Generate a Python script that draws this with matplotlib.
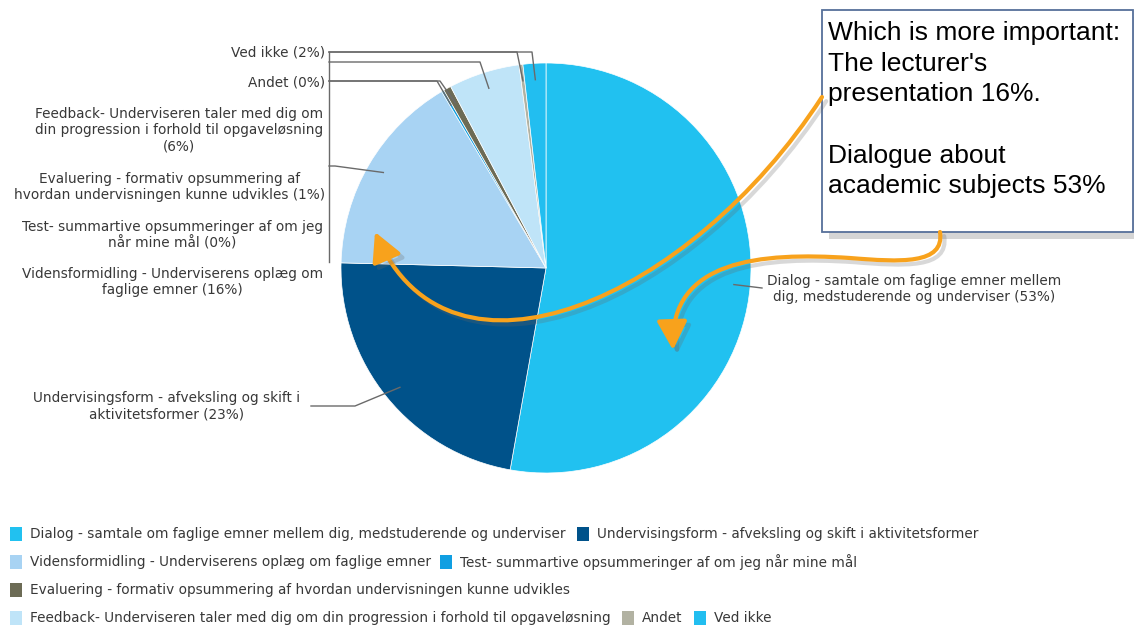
import numpy as np
import matplotlib

matplotlib.use("Agg")
import matplotlib.pyplot as plt
import matplotlib.patheffects as pe
from matplotlib.patches import Rectangle, FancyArrowPatch
from matplotlib.path import Path

W, H = 1134, 626

# survey answers, in series order (legend order == clockwise slice order)
CATEGORIES = [
    "Dialog - samtale om faglige emner mellem dig, medstuderende og underviser",
    "Undervisingsform - afveksling og skift i aktivitetsformer",
    "Vidensformidling - Underviserens oplæg om faglige emner",
    "Test- summartive opsummeringer af om jeg når mine mål",
    "Evaluering - formativ opsummering af hvordan undervisningen kunne udvikles",
    "Feedback- Underviseren taler med dig om din progression i forhold til opgaveløsning",
    "Andet",
    "Ved ikke",
]
SHARES = [52.8, 22.6, 16.1, 0.2, 0.6, 5.6, 0.3, 1.8]
COLORS = ["#21c1f0", "#00528a", "#a8d3f3", "#109fe2",
          "#6c6b55", "#bfe4f8", "#b2b2a2", "#22bef0"]
# slice labels, wrapped the way the chart shows them
WRAPPED = [
    "Dialog - samtale om faglige emner mellem\ndig, medstuderende og underviser",
    "Undervisingsform - afveksling og skift i\naktivitetsformer",
    "Vidensformidling - Underviserens oplæg om\nfaglige emner",
    "Test- summartive opsummeringer af om jeg\nnår mine mål",
    "Evaluering - formativ opsummering af\nhvordan undervisningen kunne udvikles",
    "Feedback- Underviseren taler med dig om\ndin progression i forhold til opgaveløsning\n",
    "Andet",
    "Ved ikke",
]

TEXT_C = "#383838"
LINE_C = "#6a6a6a"
ORANGE = "#f8a21c"
LABEL_FS = 9.8


def px(x, y):
    """pixel position (y down) -> data coords (y up)"""
    return (x, H - y)


fig = plt.figure(figsize=(W / 100, H / 100), dpi=100)
ax = fig.add_axes([0, 0, 1, 1])

cx, cy = px(546, 268)
R = 205
wedges, _ = ax.pie(SHARES, colors=COLORS, startangle=90, counterclock=False,
                   center=(cx, cy), radius=R,
                   wedgeprops=dict(edgecolor="white", linewidth=0.5))
ax.set_xlim(0, W)
ax.set_ylim(0, H)
ax.set_aspect("equal")
ax.axis("off")

# label text anchors (x, y, ha) and leader routes, in pixels
label_at = [(767, 289, "left"), (300, 406, "right"), (323, 282, "right"),
            (323, 235, "right"), (325, 187, "right"), (323, 130, "right"),
            (325, 82, "right"), (325, 52, "right")]
routes = [[(762, 288)],
          [(311, 406), (355, 406)],
          [(329, 166), (335, 166)],
          [(329, 81), (437, 81)],
          [(329, 81), (440, 81)],
          [(329, 62), (480, 62)],
          [(329, 52), (517, 52)],
          [(329, 52), (532, 52)]]

for w, name, val, (lx, ly, ha), route in zip(wedges, WRAPPED, SHARES, label_at, routes):
    mid = np.deg2rad((w.theta1 + w.theta2) / 2)
    end = (cx + 0.92 * R * np.cos(mid), cy + 0.92 * R * np.sin(mid))
    pts = [px(*p) for p in route] + [end]
    xs, ys = zip(*pts)
    ax.plot(xs, ys, color=LINE_C, lw=1, zorder=3)
    txt = f"{name}({val:.0f}%)" if name.endswith("\n") else f"{name} ({val:.0f}%)"
    ax.text(*px(lx, ly), txt, ha=ha, va="center", multialignment="center",
            fontsize=LABEL_FS, color=TEXT_C, linespacing=1.2)

# shared vertical connector for the stacked labels on the left
ax.plot(*zip(px(329, 52), px(329, 262)), color=LINE_C, lw=1, zorder=3)

# call-out box
box = Rectangle(px(822, 232), 311, 222, facecolor="white", edgecolor="#56709a",
                lw=1.3, zorder=4,
                path_effects=[pe.withSimplePatchShadow(offset=(5, -5),
                                                       shadow_rgbFace="#888888",
                                                       alpha=0.35)])
ax.add_patch(box)
note = (f"Which is more important:\nThe lecturer's\n"
        f"presentation {SHARES[2]:.0f}%.\n\nDialogue about\n"
        f"academic subjects {SHARES[0]:.0f}%")
ax.text(*px(828, 21), note, ha="left", va="top", fontsize=19,
        family="Liberation Sans", color="black", linespacing=1.35, zorder=5)

# orange arrows
shadow = [pe.SimpleLineShadow(offset=(3, -3), shadow_color="#666666", alpha=0.25),
          pe.Normal()]
arrow_paths = [
    Path([px(822, 97), px(690, 300), px(450, 405), px(375, 232)],
         [Path.MOVETO, Path.CURVE4, Path.CURVE4, Path.CURVE4]),
    Path([px(940, 232), px(945, 265), px(900, 262), px(850, 258),
          px(760, 252), px(670, 260), px(673, 350)],
         [Path.MOVETO, Path.CURVE4, Path.CURVE4, Path.CURVE4,
          Path.CURVE4, Path.CURVE4, Path.CURVE4]),
]
for p in arrow_paths:
    arr = FancyArrowPatch(path=p, arrowstyle="-|>,head_length=0.8,head_width=0.42",
                          mutation_scale=22, color=ORANGE, lw=3,
                          shrinkA=0, shrinkB=0, zorder=6, path_effects=shadow)
    ax.add_patch(arr)

# legend, laid out in rows like the chart widget does
legend_at = [(10, 534), (577, 534), (10, 562), (440, 562),
             (10, 590), (10, 618), (622, 618), (694, 618)]
for name, col, (lx, ly) in zip(CATEGORIES, COLORS, legend_at):
    ax.add_patch(Rectangle(px(lx, ly + 7), 12, 14, facecolor=col, edgecolor="none"))
    ax.text(*px(lx + 20, ly), name, ha="left", va="center", fontsize=LABEL_FS,
            color=TEXT_C)

fig.savefig("out.png", dpi=100)
